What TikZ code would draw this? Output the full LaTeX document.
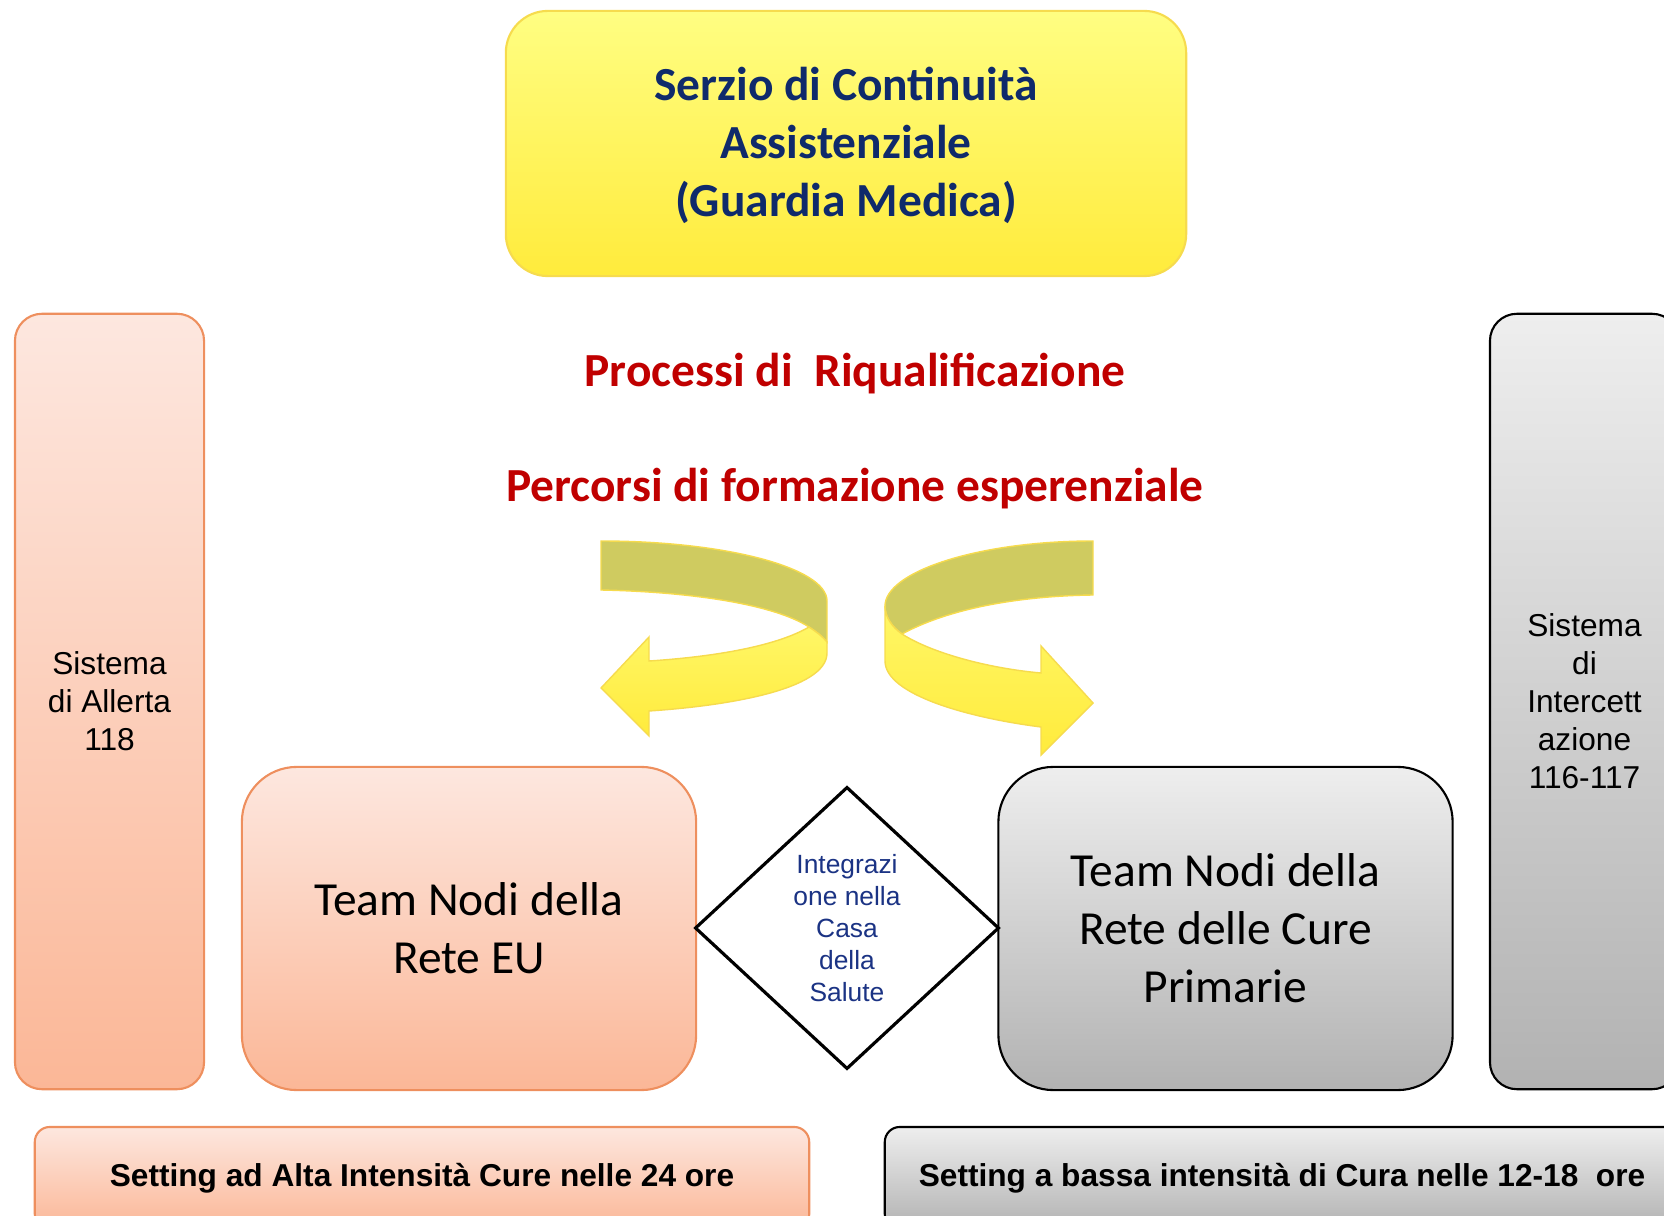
\documentclass[tikz,border=0pt]{standalone}
\usepackage{fontspec}
\setmainfont{Carlito}
\newfontfamily\arialfont{Liberation Sans}
\usepackage{tikz}
\usetikzlibrary{
  shapes.geometric
}
\definecolor{navy}{HTML}{0F2A6B}
\definecolor{casablue}{HTML}{1B3384}
\definecolor{darkred}{HTML}{C00000}
\definecolor{salmonline}{HTML}{EE8F5E}
\definecolor{pinktop}{HTML}{FDE7DF}
\definecolor{pinkbot}{HTML}{FBB797}
\definecolor{greytop}{HTML}{EEEEEE}
\definecolor{greybot}{HTML}{B2B2B2}
\definecolor{yellowtop}{HTML}{FFFE82}
\definecolor{yellowbot}{HTML}{FFEB3C}
\definecolor{goldline}{HTML}{F6DB4E}
\definecolor{olivebend}{HTML}{CFCB60}
\tikzset{
  titlebox/.style={
    draw=goldline,
    line width=0.6pt,
    top color=yellowtop,
    bottom color=yellowbot,
    rounded corners=0.42cm,
    minimum width=6.8cm,
    minimum height=2.65cm,
    align=center,
    text=navy,
    text depth=1pt,
    font=\fontsize{13.5}{16.4}\selectfont\bfseries,
  },
  pinkbox/.style={
    draw=salmonline,
    line width=0.6pt,
    top color=pinktop,
    bottom color=pinkbot,
    align=center,
    inner sep=0pt,
  },
  greybox/.style={
    draw=black,
    line width=0.6pt,
    top color=greytop,
    bottom color=greybot,
    align=center,
    inner sep=0pt,
  },
  columnbox/.style={
    rounded corners=0.27cm,
    minimum width=1.89cm,
    minimum height=7.75cm,
    font=\arialfont\fontsize{9}{10.8}\selectfont,
  },
  teambox/.style={
    rounded corners=0.55cm,
    minimum width=4.54cm,
    minimum height=3.23cm,
    font=\fontsize{13.5}{16.5}\selectfont,
  },
  settingbox/.style={
    rounded corners=0.15cm,
    minimum height=1.02cm,
    font=\arialfont\bfseries\fontsize{9}{10.8}\selectfont,
  },
  casabox/.style={
    diamond,
    draw=black,
    line width=0.9pt,
    fill=white,
    minimum width=3.04cm,
    minimum height=2.82cm,
    inner sep=0pt,
    align=center,
    text=casablue,
    font=\arialfont\fontsize{7.5}{9.1}\selectfont,
  },
  redlbl/.style={
    text=darkred,
    font=\fontsize{13.5}{16.4}\selectfont\bfseries,
  },
  ribbonback/.style={
    draw=goldline,
    line width=0.4pt,
    fill=olivebend,
  },
  ribbonfront/.style={
    draw=goldline,
    line width=0.4pt,
    top color=yellowtop!60!yellowbot,
    bottom color=yellowbot,
  },
}

\begin{document}
\begin{tikzpicture}[x=0.01cm, y=-0.01cm]
  \path[use as bounding box, clip] (0,0) rectangle (1664,1216);

  % --- Service box (top) ---
  \node[titlebox] (servizio) at (846,143.5) {Serzio di Continuità\\Assistenziale\\(Guardia Medica)};

  % --- Headings ---
  \node[redlbl] (riqual)   at (855,374) {Processi di\ \ Riqualificazione};
  \node[redlbl] (percorsi) at (855,489) {Percorsi di formazione esperenziale};

  % --- Side columns ---
  \node[pinkbox, columnbox] (allerta)   at (109.5,701.5)  {Sistema\\di Allerta\\118};
  \node[greybox, columnbox] (intercett) at (1584.5,701.5) {Sistema\\di\\Intercett\\azione\\116-117};

  % --- Team nodes and diamond between them ---
  \node[pinkbox, teambox] (teameu) at (469,928.5)    {Team Nodi della\\Rete EU};
  \node[greybox, teambox] (teamcp) at (1225.5,928.5) {Team Nodi della\\Rete delle Cure\\Primarie};
  \node[casabox] (casa) at (847,928) {Integrazi\\one nella\\Casa\\della\\Salute};

  % --- Settings (bottom) ---
  \node[pinkbox, settingbox, minimum width=7.74cm] (alta)  at (422,1178)  {Setting ad Alta Intensità Cure nelle 24 ore};
  \node[greybox, settingbox, minimum width=7.94cm] (bassa) at (1282,1178) {Setting a bassa intensità di Cura nelle 12-18\ \ ore};

  % --- Ribbon arrows, left one ---
  \path[ribbonback] (601,541) .. controls (726,541) and (827,568) .. (827,601) -- (827,642)
    .. controls (821,635) and (815,631) .. (809,627) .. controls (775,605) and (695,592) .. (601,590) -- cycle;
  \path[ribbonfront] (809,627) .. controls (815,631) and (821,635) .. (827,642) -- (827,653)
    .. controls (827,690) and (725,706) .. (649,711) -- (649,736) -- (601,688) -- (649,637) -- (649,661)
    .. controls (725,656) and (780,644) .. (809,627) -- cycle;

  % --- Ribbon arrows, right one ---
  \path[ribbonback] (1093,541) .. controls (977,541) and (885,572) .. (885,606)
    .. controls (885,617) and (892,627) .. (902,634) .. controls (950,608) and (1020,596) .. (1093,595) -- cycle;
  \path[ribbonfront] (885,606) .. controls (885,617) and (892,627) .. (902,634)
    .. controls (930,652) and (985,668) .. (1041,673) -- (1041,646) -- (1093,703) -- (1041,755) -- (1041,727)
    .. controls (970,718) and (885,695) .. (885,661) -- cycle;
\end{tikzpicture}
\end{document}
